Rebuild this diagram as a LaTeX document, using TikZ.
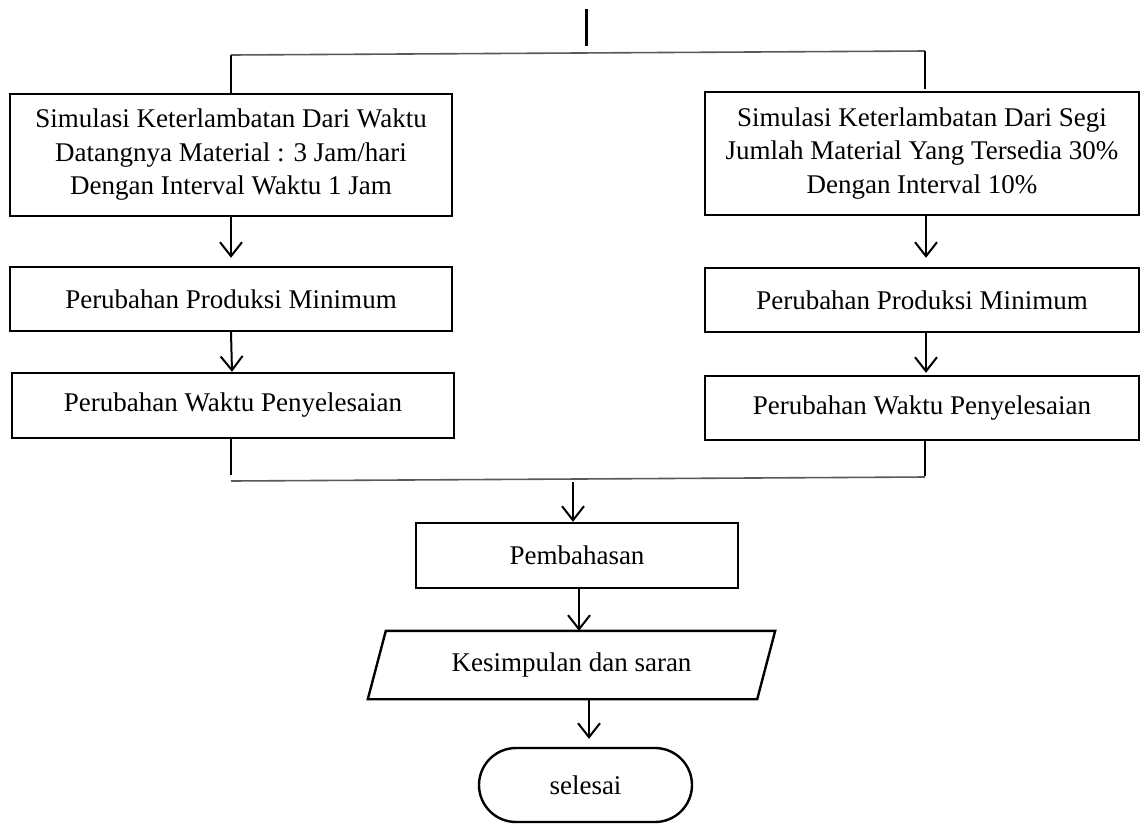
\documentclass[tikz,border=0pt]{standalone}
\usepackage{fontspec}
\setmainfont{Liberation Serif}
\usetikzlibrary{arrows.meta,calc}
\begin{document}
\begin{tikzpicture}[x=1pt,y=-1pt,
  box/.style={draw=black,line width=2.4pt,rectangle,inner sep=0pt,align=center,
    font=\fontsize{27}{33.5}\selectfont},
  plain/.style={rectangle,inner sep=0pt,align=center,font=\fontsize{27}{33.5}\selectfont},
  arr/.style={line width=2pt,-{Straight Barb[length=14pt,width=22pt,line width=2pt]}},
  conn/.style={line width=2.2pt},
  hline/.style={line width=1.6pt,draw=black!65},
  stem/.style={line width=3pt}]
\useasboundingbox (0,0) rectangle (1141,823);

% top
\coordinate (t1) at (586,9);
\coordinate (t2) at (586,46);
\coordinate (hl) at (231,55);
\coordinate (hr) at (925,51);
\coordinate (hre) at (925,89);
\draw[stem] (t1) -- (t2);
\draw[hline] (hl) -- (hr);

% left column
\node[box,minimum width=442,minimum height=122] (L1) at (231,155)
  {Simulasi Keterlambatan Dari Waktu\\Datangnya Material : 3 Jam/hari\\Dengan Interval Waktu 1 Jam};
\node[box,minimum width=442,minimum height=64] (L2) at (231,299) {Perubahan Produksi Minimum};
\node[box,minimum width=442,minimum height=65] (L3) at (233,405.5) {Perubahan Waktu Penyelesaian};

% right column
\node[box,minimum width=434,minimum height=123] (R1) at (922,153.5)
  {Simulasi Keterlambatan Dari Segi\\Jumlah Material Yang Tersedia 30\%\\Dengan Interval 10\%};
\node[box,minimum width=434,minimum height=64] (R2) at (922,300) {Perubahan Produksi Minimum};
\node[box,minimum width=434,minimum height=64] (R3) at (922,408) {Perubahan Waktu Penyelesaian};

\draw[conn] (hl) -- (hl |- L1.north);
\draw[conn] (hr) -- (hre);

\draw[arr,shorten >=8pt] (L1.south) -- (L2.north);
\draw[arr] (L2.south) -- ([xshift=-1]L3.north);
\draw[arr,shorten >=9pt] ([xshift=4]R1.south) -- ([xshift=4]R2.north);
\draw[arr,shorten >=2pt] ([xshift=4]R2.south) -- ([xshift=4]R3.north);

% merge
\coordinate (bl) at (231,481);
\coordinate (br) at (925,477);
\draw[conn] ([xshift=-2]L3.south) -- (231,475);
\draw[conn] ([xshift=3]R3.south) -- (925,476);
\draw[hline] (bl) -- (br);

\node[box,minimum width=322,minimum height=65] (P) at (577,555.5) {Pembahasan};
\coordinate (pa) at (573,482);
\draw[arr] (pa) -- (pa |- P.north);

% parallelogram
\node[plain,minimum width=389,minimum height=68] (K) at (571.5,665) {Kesimpulan dan saran};
\draw[line width=2.4pt,line join=miter]
  ($(K.north west)+(9,0)$) -- ($(K.north east)+(9,0)$) -- ($(K.south east)+(-9,0)$) -- ($(K.south west)+(-9,0)$) -- cycle;
\draw[arr] ([xshift=2]P.south) -- ([xshift=7.5]K.north);

% terminal
\node[box,rounded corners=37pt,minimum width=213,minimum height=74] (S) at (585.5,785) {selesai};
\draw[arr,shorten >=8pt] ([xshift=17.5]K.south) -- ([xshift=3.5]S.north);
\end{tikzpicture}
\end{document}
